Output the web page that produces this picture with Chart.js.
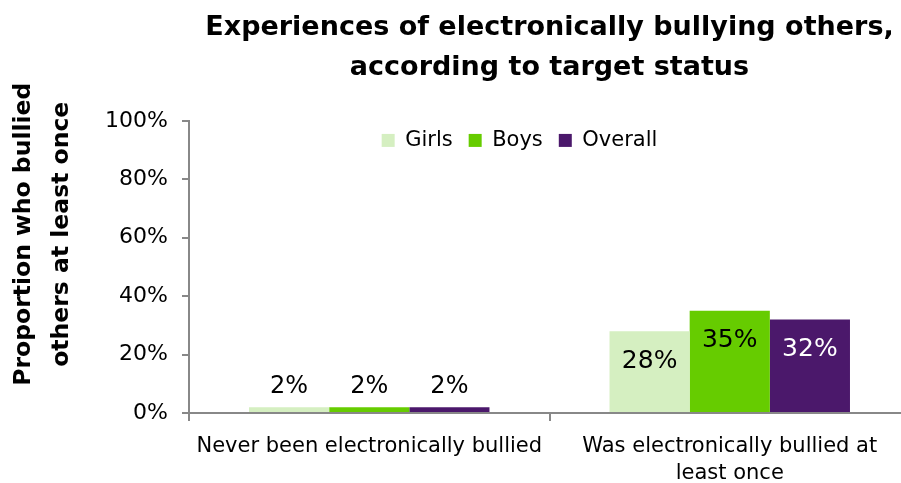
<!DOCTYPE html>
<html>
<head>
<meta charset="utf-8">
<script src="https://cdn.jsdelivr.net/npm/chart.js@4/dist/chart.umd.min.js"></script>
<style>
  html, body { margin: 0; padding: 0; background: #fff; overflow: hidden; }
  #wrap { width: 912px; height: 483px; }
</style>
</head>
<body>
<div id="wrap"><canvas id="myChart" width="912" height="483"></canvas></div>
<script>
var categories = [
    ["Never been electronically bullied"],
    ["Was electronically bullied at", "least once"]
];
var girls = [2, 28];
var boys = [2, 35];
var overall = [2, 32];
var yTicks = [0, 20, 40, 60, 80, 100];

var barColors = ["#d5efc1", "#66cc00", "#4b186b"];
var textColors = ["#000", "#000", "#fff"];

// draws the % labels on the bars (no datalabels plugin available offline)
var barLabels = {
    id: "barLabels",
    afterLayout: function (chart) {
        // legend sits inside the plot, a bit left of centre, like the original
        var lg = chart.legend;
        var dy = chart.chartArea.top - 7 - lg.top;
        lg.top += dy;
        lg.bottom += dy;
        lg.left -= 30;
        lg.right -= 30;
    },
    afterDatasetsDraw: function (chart) {
        var ctx = chart.ctx;
        ctx.save();
        ctx.textAlign = "center";
        ctx.textBaseline = "middle";
        chart.data.datasets.forEach(function (ds, i) {
            var meta = chart.getDatasetMeta(i);
            meta.data.forEach(function (bar, j) {
                var v = ds.data[j];
                if (v < 10) {
                    ctx.font = "24px 'DejaVu Sans'";
                    ctx.fillStyle = "#000";
                    ctx.fillText(v + "%", bar.x, bar.y - 20);
                } else {
                    ctx.font = "25px 'DejaVu Sans'";
                    ctx.fillStyle = textColors[i];
                    ctx.fillText(v + "%", bar.x, bar.y + 30);
                }
            });
        });
        ctx.restore();
    }
};

new Chart("myChart", {
    type: "bar",
    data: {
        labels: categories,
        datasets: [
            {label: "Girls", data: girls, backgroundColor: barColors[0]},
            {label: "Boys", data: boys, backgroundColor: barColors[1]},
            {label: "Overall", data: overall, backgroundColor: barColors[2]}
        ]
    },
    options: {
        responsive: false,
        animation: false,
        layout: {padding: {right: 2}},
        datasets: {bar: {categoryPercentage: 0.667, barPercentage: 1.0}},
        plugins: {
            title: {
                display: true,
                fullSize: false,
                text: ["Experiences of electronically bullying others,", "according to target status"],
                color: "#000",
                font: {family: "DejaVu Sans", size: 27, weight: "bold", lineHeight: 1.48},
                padding: {top: 8, bottom: -14}
            },
            legend: {
                position: "top",
                fullSize: false,
                labels: {
                    boxWidth: 13,
                    boxHeight: 13,
                    padding: 16,
                    color: "#000",
                    font: {family: "DejaVu Sans", size: 21}
                }
            },
            tooltip: {enabled: false}
        },
        scales: {
            x: {
                grid: {display: true, drawOnChartArea: false, tickLength: 8, color: "#888", lineWidth: 2, offset: true},
                border: {color: "#888", width: 2},
                ticks: {
                    color: "#000",
                    padding: 12,
                    maxRotation: 0,
                    font: {family: "DejaVu Sans", size: 21, lineHeight: 1.3}
                },
                afterFit: function (scale) { scale.height = 70; }
            },
            y: {
                min: 0,
                max: 100,
                afterBuildTicks: function (scale) {
                    scale.ticks = yTicks.map(function (v) { return {value: v}; });
                },
                grid: {display: true, drawOnChartArea: false, tickLength: 7, color: "#888", lineWidth: 2},
                border: {color: "#888", width: 2},
                ticks: {
                    color: "#000",
                    padding: 14,
                    font: {family: "DejaVu Sans", size: 22},
                    callback: function (v) { return v + "%"; }
                },
                title: {
                    display: true,
                    // leading spaces nudge the rotated title upward, as in the original
                    text: ["        Proportion who bullied", "        others at least once"],
                    color: "#000",
                    font: {family: "DejaVu Sans", size: 23.5, weight: "bold", lineHeight: 1.62},
                    padding: {top: 5, bottom: 0}
                },
                afterFit: function (scale) { scale.width = 189; }
            }
        }
    },
    plugins: [barLabels]
});
</script>
</body>
</html>
